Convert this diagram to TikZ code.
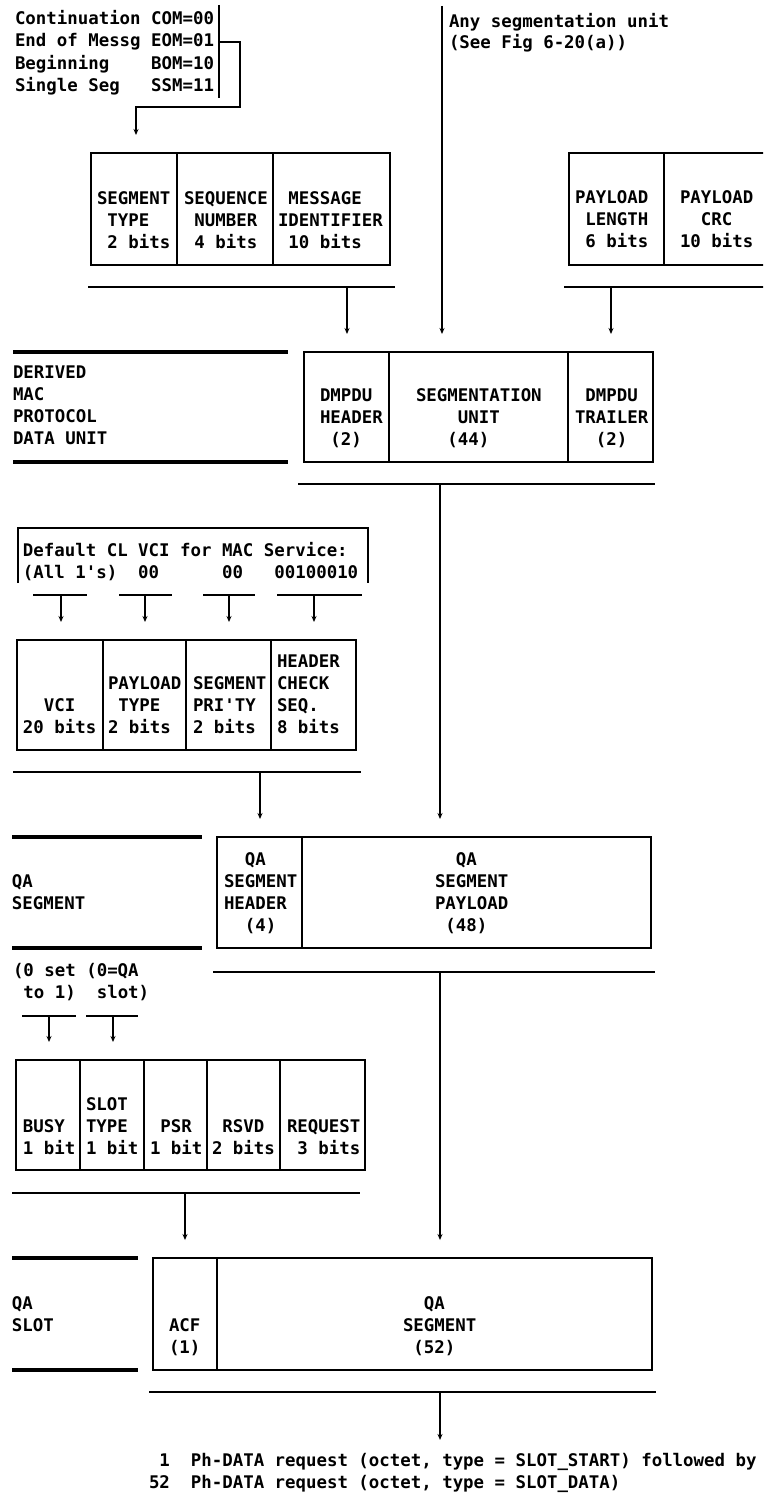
\documentclass[tikz,border=0pt]{standalone}
\usepackage{fontspec}
\setmainfont{DejaVu Sans Mono}
\usetikzlibrary{arrows.meta}
\newcommand\mylines[1]{\begin{tabular}[b]{@{}l@{}}#1\end{tabular}}
\begin{document}
\begin{tikzpicture}[x=1pt,y=-1pt,
  every node/.style={inner sep=0pt,outer sep=0pt},
  cell/.style 2 args={draw,line width=1.9pt,minimum width=#1 pt,minimum height=#2 pt,anchor=north west},
  lbl/.style={anchor=base west,font=\fontsize{17.4}{21.8}\selectfont\bfseries},
  bar/.style={line width=2.1pt},
  thick bar/.style={line width=4pt},
  conn/.style={line width=1.2pt,-{Stealth[length=6pt,width=5pt]},shorten >=18pt},
  frame/.style={line width=1.5pt}]
\fill[white] (0,0) rectangle (763,1493);
\useasboundingbox (0,0) rectangle (763,1493);
\clip (0,0) rectangle (763,1493);

% ---------- top left: segment type codes ----------
\node[lbl] (codes) at (15,91.5) {\renewcommand\arraystretch{1.03}\mylines{Continuation COM=00\\End of Messg EOM=01\\Beginning~~~~BOM=10\\Single Seg~~~SSM=11}};
\draw[frame] (219,5) -- (219,98);
\coordinate (brk) at (219,42);

% ---------- top right: any segmentation unit ----------
\node[lbl] (anyseg) at (449,49) {\mylines{Any segmentation unit\\(See Fig 6-20(a))}};
\coordinate (asu) at (442,6);

% ---------- header fields ----------
\node[cell={86}{112}] (st) at (91,153) {};
\node[cell={96}{112}] (sn) at (177,153) {};
\node[cell={117}{112}] (mi) at (273,153) {};
\node[lbl] (st-t) at (97,248) {\mylines{SEGMENT\\~TYPE\\~2 bits}};
\node[lbl] (sn-t) at (184,248) {\mylines{SEQUENCE\\~NUMBER\\~4 bits}};
\node[lbl] (mi-t) at (278,248) {\mylines{~MESSAGE\\IDENTIFIER\\~10 bits}};
\draw[bar] (88,287) -- (395,287);
\coordinate (b1) at (347,287);

% ---------- trailer fields ----------
\node[cell={95}{112}] (pl) at (569,153) {};
\node[cell={110}{112}] (pc) at (664,153) {};
\node[lbl] (pl-t) at (575,247) {\mylines{PAYLOAD\\~LENGTH\\~6 bits}};
\node[lbl] (pc-t) at (680,247) {\mylines{PAYLOAD\\~~CRC\\10 bits}};
\draw[bar] (564,287) -- (770,287);
\coordinate (b2) at (611,287);

% ---------- derived MAC PDU ----------
\draw[thick bar] (13,352) -- (288,352);
\draw[thick bar] (13,462) -- (288,462);
\node[lbl] (dmpdu-l) at (13,444) {\mylines{DERIVED\\MAC\\PROTOCOL\\DATA UNIT}};
\node[cell={85}{110}] (dh) at (304,352) {};
\node[cell={179}{110}] (su) at (389,352) {};
\node[cell={85}{110}] (tr) at (568,352) {};
\node[lbl] (dh-t) at (320,445) {\mylines{DMPDU\\HEADER\\~(2)}};
\node[lbl] (su-t) at (416,445) {\mylines{SEGMENTATION\\~~~~UNIT\\~~~(44)}};
\node[lbl] (tr-t) at (575,445) {\mylines{~DMPDU\\TRAILER\\~~(2)}};
\draw[bar] (298,484) -- (655,484);
\coordinate (b3) at (440,484);

\draw[conn] (brk) -- (240,42) -- (240,107) -- (136,107) -- (136,107 |- st.north);
\draw[conn] (asu) -- (asu |- su.north);
\draw[conn] (b1) -- (b1 |- dh.north);
\draw[conn] (b2) -- (b2 |- tr.north);

% ---------- default VCI ----------
\draw[frame] (18,583) -- (18,528) -- (368,528) -- (368,583);
\node[lbl] (dflt) at (23,578) {\mylines{Default CL VCI for MAC Service:\\(All 1\textquotesingle s)~~00~~~~~~00~~~00100010}};
\draw[bar] (33,595) -- (87,595);
\draw[bar] (119,595) -- (172,595);
\draw[bar] (203,595) -- (255,595);
\draw[bar] (277,595) -- (362,595);
\coordinate (v1) at (61,595);
\coordinate (v2) at (145,595);
\coordinate (v3) at (229,595);
\coordinate (v4) at (314,595);

\node[cell={86}{110}] (vci) at (17,640) {};
\node[cell={83}{110}] (pt) at (103,640) {};
\node[cell={85}{110}] (sp) at (186,640) {};
\node[cell={85}{110}] (hc) at (271,640) {};
\node[lbl] (vci-t) at (23,733) {\mylines{~~VCI\\20 bits}};
\node[lbl] (pt-t) at (108,733) {\mylines{PAYLOAD\\~TYPE\\2 bits}};
\node[lbl] (sp-t) at (193,733) {\mylines{SEGMENT\\PRI\textquotesingle TY\\2 bits}};
\node[lbl] (hc-t) at (277,733) {\mylines{HEADER\\CHECK\\SEQ.\\8 bits}};
\draw[conn] (v1) -- (v1 |- vci.north);
\draw[conn] (v2) -- (v2 |- pt.north);
\draw[conn] (v3) -- (v3 |- sp.north);
\draw[conn] (v4) -- (v4 |- hc.north);
\draw[bar] (13,772) -- (361,772);
\coordinate (b4) at (260,772);

% ---------- QA segment ----------
\draw[thick bar] (12,837) -- (202,837);
\draw[thick bar] (12,948) -- (202,948);
\node[lbl] (qaseg-l) at (12,909) {\mylines{QA\\SEGMENT}};
\node[cell={85}{111}] (qh) at (217,837) {};
\node[cell={349}{111}] (qp) at (302,837) {};
\node[lbl] (qh-t) at (224,931) {\mylines{~~QA\\SEGMENT\\HEADER\\~~(4)}};
\node[lbl] (qp-t) at (435,931) {\mylines{~~QA\\SEGMENT\\PAYLOAD\\~(48)}};
\draw[conn] (b3) -- (b3 |- qp.north);
\draw[conn] (b4) -- (b4 |- qh.north);
\draw[bar] (213,972) -- (655,972);
\coordinate (b5) at (440,972);

% ---------- ACF fields ----------
\node[lbl] (acfnote) at (13,998) {\mylines{(0 set (0=QA\\~to 1)~~slot)}};
\draw[bar] (22,1016) -- (76,1016);
\draw[bar] (86,1016) -- (138,1016);
\coordinate (a1) at (49,1016);
\coordinate (a2) at (113,1016);
\node[cell={64}{110}] (busy) at (16,1060) {};
\node[cell={64}{110}] (slot) at (80,1060) {};
\node[cell={63}{110}] (psr) at (144,1060) {};
\node[cell={73}{110}] (rsvd) at (207,1060) {};
\node[cell={85}{110}] (req) at (280,1060) {};
\node[lbl] (busy-t) at (23,1154) {\mylines{BUSY\\1 bit}};
\node[lbl] (slot-t) at (86,1154) {\mylines{SLOT\\TYPE\\1 bit}};
\node[lbl] (psr-t) at (150,1154) {\mylines{~PSR\\1 bit}};
\node[lbl] (rsvd-t) at (212,1154) {\mylines{~RSVD\\2 bits}};
\node[lbl] (req-t) at (287,1154) {\mylines{REQUEST\\~3 bits}};
\draw[conn] (a1) -- (a1 |- busy.north);
\draw[conn] (a2) -- (a2 |- slot.north);
\draw[bar] (12,1193) -- (360,1193);
\coordinate (b6) at (185,1193);

% ---------- QA slot ----------
\draw[thick bar] (12,1258) -- (138,1258);
\draw[thick bar] (12,1370) -- (138,1370);
\node[lbl] (qaslot-l) at (12,1331) {\mylines{QA\\SLOT}};
\node[cell={64}{112}] (acf) at (153,1258) {};
\node[cell={435}{112}] (qs) at (217,1258) {};
\node[lbl] (acf-t) at (169,1353) {\mylines{ACF\\(1)}};
\node[lbl] (qs-t) at (403,1353) {\mylines{~~QA\\SEGMENT\\~(52)}};
\draw[conn] (b6) -- (b6 |- acf.north);
\draw[conn] (b5) -- (b5 |- qs.north);
\draw[bar] (149,1392) -- (656,1392);
\coordinate (b7) at (440,1392);

% ---------- bottom text ----------
\node[lbl] (bot) at (149,1488) {\mylines{~1~~Ph-DATA request (octet, type = SLOT\_START) followed by\\52~~Ph-DATA request (octet, type = SLOT\_DATA)}};
\draw[conn,shorten >=11pt] (b7) -- (b7 |- bot.north);
\end{tikzpicture}
\end{document}
